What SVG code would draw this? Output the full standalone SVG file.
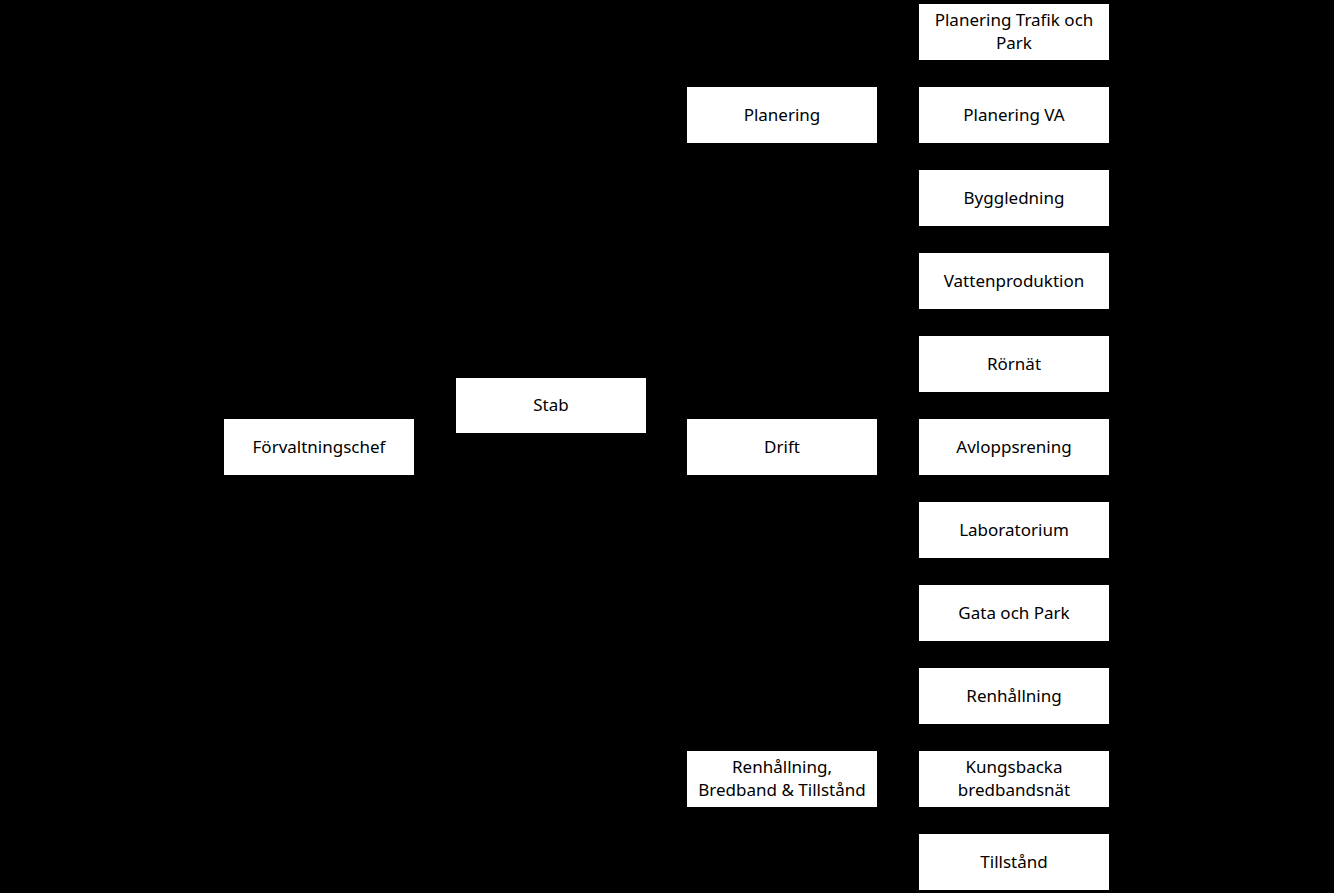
<svg xmlns="http://www.w3.org/2000/svg" width="1334" height="893" viewBox="0 0 1334 893">
<style>
.b{fill:#fff;stroke:none}
.t{font-family:"Noto Sans","Open Sans",sans-serif;font-size:17px;fill:#000;text-anchor:middle}
.c{stroke:#000;stroke-width:1.5;fill:none}
</style>
<rect width="1334" height="893" fill="#000"/>
<g id="connectors">
<path class="c" d="M414 447H435V405H456M435 447V447M646 405H666V115H687M666 447H687M666 779H687M877 115H898V32H919M898 115H919M877 447H898V198H919M898 281H919M898 364H919M898 447H919M898 530H919M898 613H919M898 696H919M877 779H898V862H919M898 779H919"/>
</g>
<g id="n_chef"><rect class="b" x="224" y="419" width="190" height="56"/><text class="t" x="319" y="453">Förvaltningschef</text></g>
<g id="n_stab"><rect class="b" x="456" y="378" width="190" height="55"/><text class="t" x="551" y="411">Stab</text></g>
<g id="n_planering"><rect class="b" x="687" y="87" width="190" height="56"/><text class="t" x="782" y="121">Planering</text></g>
<g id="n_drift"><rect class="b" x="687" y="419" width="190" height="56"/><text class="t" x="782" y="453">Drift</text></g>
<g id="n_rbt"><rect class="b" x="687" y="751" width="190" height="56"/><text class="t" x="782" y="773">Renhållning,</text><text class="t" x="782" y="796">Bredband &amp; Tillstånd</text></g>
<g id="n_ptp"><rect class="b" x="919" y="4" width="190" height="56"/><text class="t" x="1014" y="26">Planering Trafik och</text><text class="t" x="1014" y="49">Park</text></g>
<g id="n_pva"><rect class="b" x="919" y="87" width="190" height="56"/><text class="t" x="1014" y="121">Planering VA</text></g>
<g id="n_bygg"><rect class="b" x="919" y="170" width="190" height="56"/><text class="t" x="1014" y="204">Byggledning</text></g>
<g id="n_vatten"><rect class="b" x="919" y="253" width="190" height="56"/><text class="t" x="1014" y="287">Vattenproduktion</text></g>
<g id="n_ror"><rect class="b" x="919" y="336" width="190" height="56"/><text class="t" x="1014" y="370">Rörnät</text></g>
<g id="n_avlopp"><rect class="b" x="919" y="419" width="190" height="56"/><text class="t" x="1014" y="453">Avloppsrening</text></g>
<g id="n_lab"><rect class="b" x="919" y="502" width="190" height="56"/><text class="t" x="1014" y="536">Laboratorium</text></g>
<g id="n_gata"><rect class="b" x="919" y="585" width="190" height="56"/><text class="t" x="1014" y="619">Gata och Park</text></g>
<g id="n_renh"><rect class="b" x="919" y="668" width="190" height="56"/><text class="t" x="1014" y="702">Renhållning</text></g>
<g id="n_kbn"><rect class="b" x="919" y="751" width="190" height="56"/><text class="t" x="1014" y="773">Kungsbacka</text><text class="t" x="1014" y="796">bredbandsnät</text></g>
<g id="n_till"><rect class="b" x="919" y="834" width="190" height="56"/><text class="t" x="1014" y="868">Tillstånd</text></g>
</svg>
